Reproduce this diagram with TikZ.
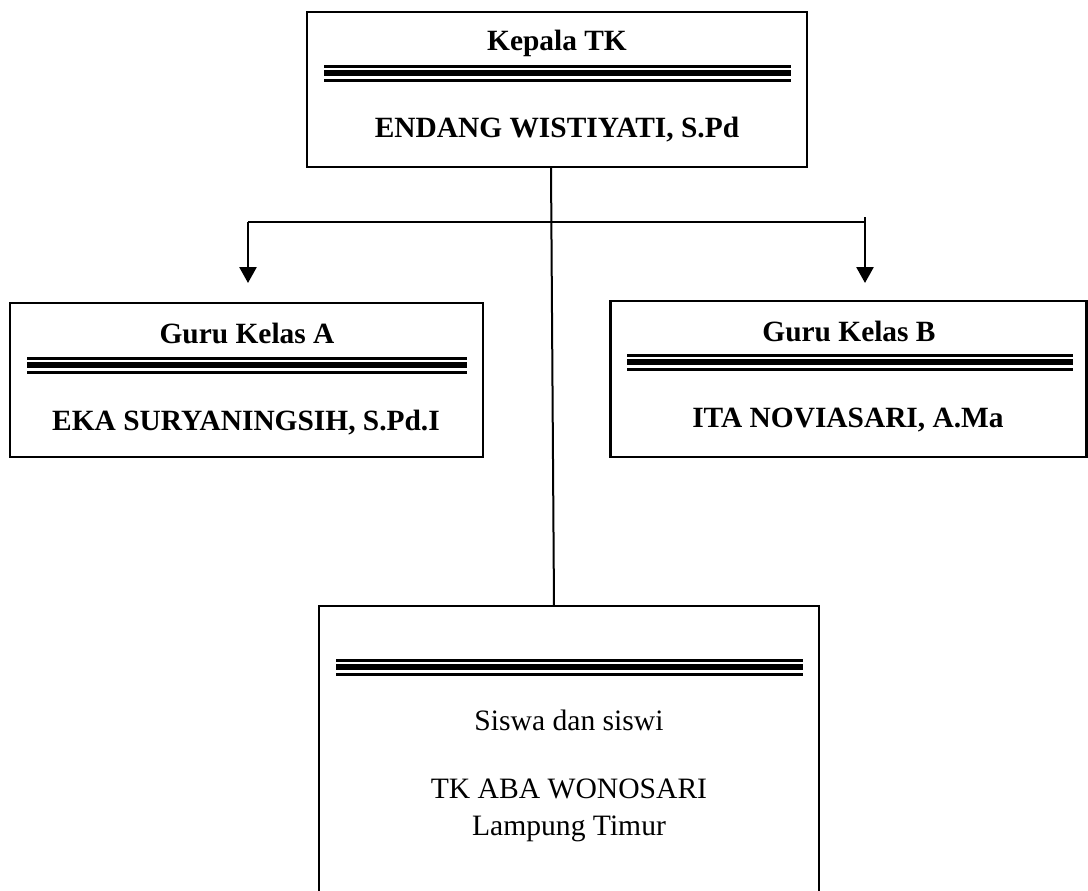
\documentclass[tikz,border=0pt]{standalone}
\usepackage{fontspec}
\setmainfont{Liberation Serif}
\usetikzlibrary{arrows.meta}
\def\garistiga(#1:#2:#3){%
	\draw[line width=1.45pt] (#1, #3+1.4) -- (#2, #3+1.4);
	\draw[line width=3pt] (#1, #3+8.2) -- (#2, #3+8.2);
	\draw[line width=1.45pt] (#1, #3+15.6) -- (#2, #3+15.6);}
\tikzset{
	kotak/.style={draw, line width=1.15pt, inner sep=0pt},
	judul/.style={anchor=base, font=\fontsize{14.7}{17}\selectfont\bfseries},
	isi/.style={anchor=base, font=\fontsize{14.8}{17}\selectfont},
	panah/.style={line width=1.35pt, -{Triangle[length=8pt,width=8.5pt]}}
}

\begin{document}
\begin{tikzpicture}[x=0.5pt, y=-0.5pt]
		%%%%% START %%%%%
		\useasboundingbox (0, 0) rectangle (1088, 890);
		\clip (0, 0) rectangle (1088, 890);
		
		% kepala
		\node[kotak, minimum width=250pt, minimum height=77.5pt] (kepala) at (557, 89.5) {};
		\node[judul] (kepala-jabatan) at (557, 50) {Kepala TK};
		\garistiga(324:791:65)
		\node[judul] (kepala-nama) at (557, 137) {ENDANG WISTIYATI, S.Pd};
		
		% guru kelas A
		\node[kotak, minimum width=236.5pt, minimum height=77pt] (gurua) at (246.5, 380) {};
		\node[judul] (gurua-jabatan) at (247, 343) {Guru Kelas A};
		\garistiga(27:467:357)
		\node[judul] (gurua-nama) at (246, 430) {EKA SURYANINGSIH, S.Pd.I};
		
		% guru kelas B
		\node[kotak, minimum width=238pt, minimum height=78pt] (gurub) at (848.5, 379) {};
		\node[judul] (gurub-jabatan) at (849, 341) {Guru Kelas B};
		\garistiga(627:1073:354)
		\node[judul] (gurub-nama) at (848, 427) {ITA NOVIASARI, A.Ma};
		
		% siswa
		\node[kotak, minimum width=250pt, minimum height=177pt] (siswa) at (569, 783) {};
		\garistiga(336:803:659)
		\node[isi] (siswa-judul) at (569, 730) {Siswa dan siswi};
		\node[isi] (siswa-sekolah) at (569, 798) {TK ABA WONOSARI};
		\node[isi] (siswa-tempat) at (569, 835) {Lampung Timur};
		
		% garis
		\coordinate (kepala-kaki) at (551, 167);
		\coordinate (siswa-atas) at (554, 606);
		\coordinate (cabang-kiri) at (248, 222);
		\coordinate (cabang-kanan) at (865, 222);
		\coordinate (cabang-kanan-atas) at (865, 217);
		\coordinate (ujung-kiri) at (248, 283);
		\coordinate (ujung-kanan) at (865, 283);
		
		\draw[line width=1pt] (kepala-kaki) -- (siswa-atas);
		\draw[line width=1.1pt] (cabang-kiri) -- (cabang-kanan);
		\draw[panah] (cabang-kiri) -- (ujung-kiri);
		\draw[panah] (cabang-kanan-atas) -- (ujung-kanan);
		
		%%%%% END %%%%%
\end{tikzpicture}
\end{document}
